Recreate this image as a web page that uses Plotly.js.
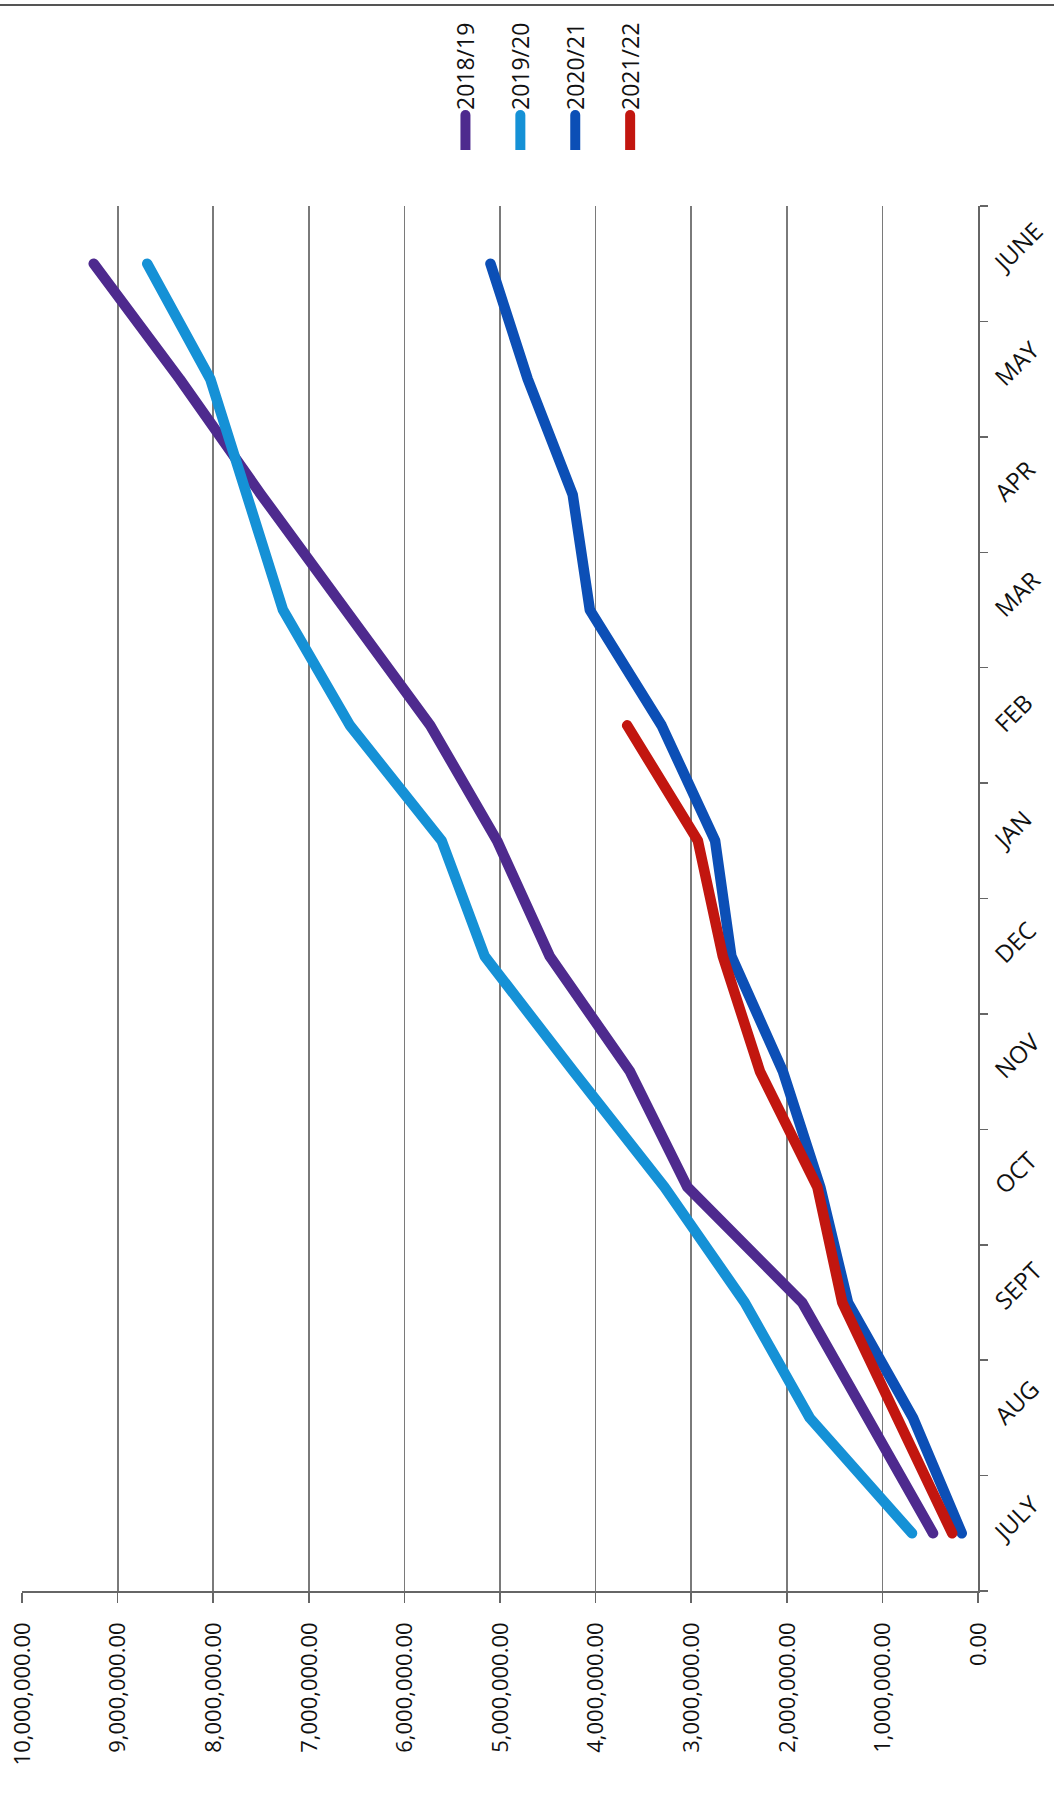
<!DOCTYPE html>
<html>
<head>
<meta charset="utf-8">
<script src="https://cdn.plot.ly/plotly-3.0.1.min.js"></script>
<style>
  html, body { margin: 0; padding: 0; background: #ffffff; overflow: hidden; width: 1054px; height: 1796px; }
  #chart {
    position: absolute; left: 0; top: 0;
    width: 1796px; height: 1054px;
    transform-origin: 0 0;
    transform: translate(0px, 1796px) rotate(-90deg);
  }
  #chart .js-line { stroke-linecap: round !important; stroke-linejoin: round !important; }
  #chart .legendlines path { stroke-linecap: round !important; d: path("M-14,0h49"); }
</style>
</head>
<body>
<div id="chart"></div>
<script>
// Months (category axis)
const months = ['JULY', 'AUG', 'SEPT', 'OCT', 'NOV', 'DEC', 'JAN', 'FEB', 'MAR', 'APR', 'MAY', 'JUNE'];

// Cumulative values per financial year
const s2018_19 = [470000, 1150000, 1840000, 3040000, 3640000, 4480000, 5030000, 5730000, 6620000, 7500000, 8350000, 9250000];
const s2019_20 = [690000, 1760000, 2440000, 3280000, 4230000, 5160000, 5610000, 6570000, 7270000, 7650000, 8030000, 8690000];
const s2020_21 = [170000, 680000, 1360000, 1650000, 2040000, 2580000, 2750000, 3310000, 4060000, 4240000, 4710000, 5100000];
const s2021_22 = [270000, 860000, 1420000, 1680000, 2280000, 2670000, 2930000, 3670000];

const seriesNames = ['2018/19', '2019/20', '2020/21', '2021/22'];
const seriesValues = [s2018_19, s2019_20, s2020_21, s2021_22];
const seriesColors = ['#4e2a8e', '#1591d6', '#0c4fb6', '#c2160f'];

// Value axis ticks
const valueTicks = [0, 1000000, 2000000, 3000000, 4000000, 5000000, 6000000, 7000000, 8000000, 9000000, 10000000];

const W = 1796, H = 1054;
const M = { l: 205, r: 206, t: 22, b: 76 };
const plotW = W - M.l - M.r, plotH = H - M.t - M.b;

const traces = seriesNames.map((name, i) => ({
  type: 'scatter',
  mode: 'lines',
  name: name,
  legendgroup: name,
  x: months.slice(0, seriesValues[i].length),
  y: seriesValues[i],
  line: { color: seriesColors[i], width: 10.5, shape: 'linear' },
  hoverinfo: 'skip'
}));

const font = "'Open Sans', 'Liberation Sans', sans-serif";

const layout = {
  width: W,
  height: H,
  margin: M,
  paper_bgcolor: '#ffffff',
  plot_bgcolor: '#ffffff',
  font: { family: font, color: '#111111', size: 22 },
  showlegend: true,
  legend: {
    x: (1646 - M.l) / plotW,
    xanchor: 'left',
    y: 1 - (444 - M.t) / plotH,
    yanchor: 'top',
    font: { family: font, size: 23, color: '#111111' },
    traceorder: 'grouped',
    tracegroupgap: 22,
    bgcolor: 'rgba(0,0,0,0)'
  },
  xaxis: {
    type: 'category',
    categoryorder: 'array',
    categoryarray: months,
    range: [-0.5, 11.5],
    tickson: 'boundaries',
    ticks: 'outside',
    ticklen: 8,
    tickwidth: 1.5,
    tickcolor: '#666666',
    showline: true,
    linecolor: '#666666',
    linewidth: 2,
    showgrid: false,
    zeroline: false,
    tickangle: 45,
    tickfont: { family: font, size: 24, color: '#111111' },
    fixedrange: true
  },
  yaxis: {
    range: [0, 10000000],
    tickvals: valueTicks,
    tickformat: ',.2f',
    ticks: 'outside',
    ticklen: 10,
    tickwidth: 1.5,
    tickcolor: '#666666',
    ticklabelstandoff: 15,
    showline: true,
    linecolor: '#666666',
    linewidth: 2,
    showgrid: true,
    gridcolor: '#7a7a7a',
    gridwidth: 1.8,
    zeroline: false,
    tickfont: { family: font, size: 22, color: '#111111' },
    fixedrange: true
  },
  shapes: [
    {
      type: 'line', xref: 'paper', yref: 'paper',
      x0: (1791 - M.l) / plotW, x1: (1791 - M.l) / plotW,
      y0: 1 + M.t / plotH, y1: 1 - (H - M.t) / plotH,
      line: { color: '#555555', width: 2 }
    }
  ]
};

Plotly.newPlot('chart', traces, layout, { displayModeBar: false, responsive: false, staticPlot: true });
</script>
</body>
</html>
